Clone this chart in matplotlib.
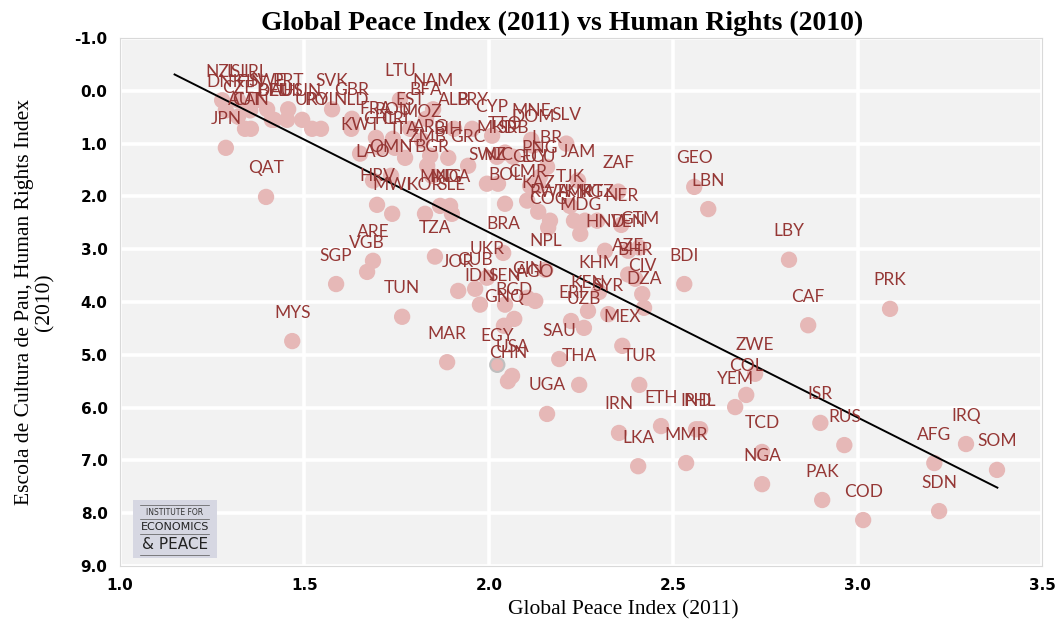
import matplotlib
matplotlib.use("Agg")
import matplotlib.pyplot as plt
import numpy as np
from matplotlib.patches import Rectangle

codes = ["NZL","ISL","IRL","DNK","FIN","SWE","PRT","CZE","BEL","DEU","AUS","HUN","AUT","CAN",
         "JPN","QAT","MYS","URY","POL","SVK","GBR","NLD","SGP","KWT","FRA","ROU","CHL","CRI",
         "MOZ","LTU","NAM","BFA","EST","ALB","PRY","ITA","ARG","BIH","ZMB","OMN","BGR","LAO",
         "GRC","CYP","TTO","MKD","SRB","MNE","DOM","SLV","LBR","PNG","JAM","SWZ","NIC","GUY",
         "ECU","BOL","CMR","KAZ","TJK","HRV","MWI","KOR","SLE","MNG","MDA","ARE","VGB","TUN",
         "TZA","BRA","NPL","UKR","JOR","CUB","IDN","SEN","AGO","GIN","BGD","GNQ","MAR","EGY",
         "USA","CHN","SAU","THA","UGA","TUR","IRN","ETH","LKA","MMR","IND","PHL","TCD","NGA",
         "PAK","COD","SDN","AFG","IRQ","SOM","ISR","RUS","ZWE","COL","YEM","CAF","PRK","LBY",
         "BDI","GEO","LBN","ZAF","NER","RWA","TKM","MRT","KGZ","COG","MDG","HND","VEN","GTM",
         "AZE","BHR","KHM","CIV","DZA","KEN","SYR","ERI","UZB","MEX"]

gpi_2011 = [1.277,1.320,1.369,1.287,1.353,1.399,1.456,1.320,1.412,1.418,1.453,1.494,1.339,1.355,
            1.287,1.396,1.467,1.521,1.545,1.575,1.629,1.627,1.586,1.651,1.694,1.740,1.705,1.745,
            1.819,1.759,1.849,1.830,1.787,1.906,1.955,1.773,1.841,1.890,1.833,1.735,1.846,1.686,
            1.944,2.009,2.044,2.022,2.066,2.115,2.120,2.210,2.158,2.139,2.242,1.995,2.025,2.112,
            2.134,2.044,2.104,2.134,2.220,1.697,1.738,1.827,1.900,1.868,1.895,1.686,1.670,1.765,
            1.854,2.039,2.153,1.995,1.917,1.963,1.976,2.044,2.126,2.104,2.069,2.041,1.887,2.023,
            2.063,2.052,2.191,2.245,2.158,2.408,2.353,2.467,2.405,2.535,2.562,2.573,2.741,2.741,
            2.904,3.015,3.221,3.208,3.294,3.378,2.899,2.964,2.722,2.698,2.668,2.866,3.088,2.814,
            2.530,2.557,2.595,2.351,2.359,2.166,2.231,2.261,2.294,2.161,2.248,2.315,2.378,2.408,
            2.378,2.397,2.299,2.416,2.421,2.269,2.324,2.223,2.258,2.362]

hr_2010 = [0.18,0.18,0.18,0.37,0.37,0.35,0.35,0.49,0.55,0.55,0.55,0.55,0.72,0.72,
           1.08,2.01,4.74,0.72,0.72,0.35,0.53,0.72,3.66,1.19,0.89,0.91,1.08,1.08,
           0.94,0.17,0.35,0.53,0.72,0.72,0.72,1.27,1.23,1.27,1.42,1.61,1.61,1.70,
           1.42,0.85,1.17,1.25,1.25,0.93,1.04,1.00,1.44,1.63,1.70,1.76,1.76,1.80,
           1.80,2.14,2.08,2.29,2.18,2.16,2.33,2.33,2.33,2.18,2.18,3.22,3.43,4.28,
           3.14,3.07,3.39,3.54,3.79,3.75,4.05,4.05,3.98,3.92,4.32,4.45,5.14,5.19,
           5.40,5.50,5.08,5.57,6.12,5.57,6.48,6.35,7.11,7.05,6.41,6.41,6.84,7.45,
           7.75,8.13,7.96,7.05,6.69,7.18,6.29,6.71,5.36,5.76,5.99,4.44,4.13,3.20,
           3.66,1.82,2.24,1.91,2.54,2.46,2.46,2.46,2.46,2.59,2.71,3.03,3.03,2.97,
           3.48,3.56,3.81,3.85,4.11,4.17,4.23,4.36,4.49,4.83]

highlighted = ["EGY"]
trend_x_range = [1.148, 3.379]

x_ticks = [1.0, 1.5, 2.0, 2.5, 3.0, 3.5]
y_ticks = [-1.0, 0.0, 1.0, 2.0, 3.0, 4.0, 5.0, 6.0, 7.0, 8.0, 9.0]

DOT = "#e6b8b7"
LAB = "#953735"

fig = plt.figure(figsize=(10.57, 6.24), dpi=100)
ax = fig.add_axes([120/1057, 1-566/624, 922/1057, 528/624])
ax.set_facecolor("#f2f2f2")
for s in ax.spines.values():
    s.set_color("#d9d9d9")
    s.set_linewidth(0.8)

ax.set_xlim(1.0, 3.5)
ax.set_ylim(9.0, -1.0)
ax.set_xticks(x_ticks)
ax.set_yticks(y_ticks)
ax.set_xticklabels([f"{v:.1f}" for v in x_ticks], fontweight="bold", fontsize=11, family="DejaVu Sans")
ax.set_yticklabels([f"{v:.1f}" for v in y_ticks], fontweight="bold", fontsize=11, family="DejaVu Sans")
ax.tick_params(length=0, pad=9)
ax.grid(True, color="white", linewidth=2.6)
ax.set_axisbelow(True)

x = np.array(gpi_2011)
y = np.array(hr_2010)
edges = ["#bfbfbf" if c in highlighted else DOT for c in codes]
ax.scatter(x, y, s=105, color=DOT, edgecolors=edges, linewidths=1.5, zorder=3)

coef = np.polyfit(x, y, 1)
tx = np.array(trend_x_range)
ax.plot(tx, np.polyval(coef, tx), color="black", linewidth=1.4, zorder=4)

for c, xi, yi in zip(codes, x, y):
    ax.annotate(c, (xi, yi), xytext=(0, 20.5), textcoords="offset points",
                ha="center", va="center", fontsize=12.5, color=LAB, family="Lato",
                zorder=5)

fig.text(562/1057, 1-23/624, "Global Peace Index (2011) vs Human Rights (2010)", fontsize=20,
         fontweight="bold", family="Liberation Serif", ha="center", va="center")
ax.set_xlabel("Global Peace Index (2011)", fontsize=15.5, family="Liberation Serif", va="center")
ax.xaxis.set_label_coords((623-120)/922, (566-610)/528)
ax.set_ylabel("Escola de Cultura de Pau, Human Rights Index\n(2010)", fontsize=15.5,
              family="Liberation Serif", labelpad=14, linespacing=1.1)

# logo
ax.add_patch(Rectangle((0.014, 0.015), 0.091, 0.11, transform=ax.transAxes,
                       facecolor="#d6d7e2", edgecolor="none", zorder=6))
ax.text(0.0595, 0.102, "INSTITUTE FOR", transform=ax.transAxes, ha="center", va="center",
        fontsize=5.5, color="#333333", family="DejaVu Sans", zorder=7)
ax.text(0.0595, 0.074, "ECONOMICS", transform=ax.transAxes, ha="center", va="center",
        fontsize=8, color="#222222", family="DejaVu Sans", zorder=7)
ax.text(0.0595, 0.040, "& PEACE", transform=ax.transAxes, ha="center", va="center",
        fontsize=11, color="#222222", family="DejaVu Sans", zorder=7)
for yy in (0.115, 0.089, 0.060, 0.021):
    ax.plot([0.022, 0.097], [yy, yy], transform=ax.transAxes, color="#555555",
            linewidth=0.5, zorder=7)

fig.savefig("out.png", dpi=100)
